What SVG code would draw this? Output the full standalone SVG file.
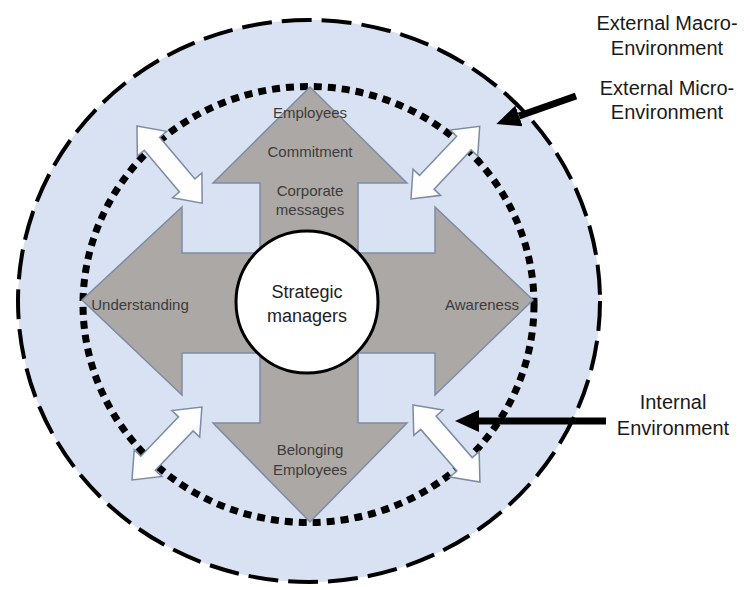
<svg xmlns="http://www.w3.org/2000/svg" width="750" height="590" viewBox="0 0 750 590">
  <style>
    .zone { fill: #d8e2f2; }
    .macro { fill: none; stroke: #000; stroke-width: 4; stroke-dasharray: 30 10; }
    .micro { fill: none; stroke: #000; stroke-width: 7; stroke-dasharray: 8 6; }
    .cross { fill: #aca8a5; stroke: #7d8ca6; stroke-width: 1.5; }
    .link { fill: #fefefe; stroke: #7d8ca6; stroke-width: 1.5; }
    .hub { fill: #fff; stroke: #000; stroke-width: 3; }
    .pointer { stroke: #000; stroke-width: 7; fill: none; }
    .lbl { font-family: "Liberation Sans", Arial, sans-serif; font-size: 15px; fill: #3c3c3c; text-anchor: middle; }
    .hubtxt { font-family: "Liberation Sans", Arial, sans-serif; font-size: 18px; fill: #222; text-anchor: middle; }
    .side { font-family: "Liberation Sans", Arial, sans-serif; font-size: 20px; fill: #1a1a1a; text-anchor: middle; }
  </style>
  <defs>
    <!-- double-headed block arrow, laid along x from 0 to 100 -->
    <polygon id="dbl" points="0,0 23,-19 23,-10 77,-10 77,-19 100,0 77,19 77,10 23,10 23,19"/>
    <marker id="head" markerUnits="userSpaceOnUse" markerWidth="24" markerHeight="22" refX="0" refY="11" orient="auto">
      <path d="M0,0 L24,11 L0,22 Z" fill="#000"/>
    </marker>
  </defs>

  <rect width="750" height="590" fill="#fff"/>

  <!-- environment rings -->
  <g id="macro-environment">
    <ellipse class="zone" cx="309" cy="301" rx="291" ry="281"/>
    <ellipse class="macro" cx="309" cy="301" rx="291" ry="281"/>
  </g>
  <g id="micro-environment">
    <ellipse class="micro" cx="308.5" cy="304.5" rx="225.5" ry="218"/>
  </g>

  <!-- four-way arrow of the internal environment -->
  <g id="internal-arrows">
    <path class="cross" d="M310,87 L407,183 L358,183 L358,253 L435,253 L435,207 L533,300 L435,395 L435,353 L358,353 L358,423 L407,423 L310,522 L213,423 L260,423 L260,353 L182,353 L182,395 L82,300 L182,207 L182,253 L260,253 L260,183 L213,183 Z"/>
    <text class="lbl" x="310" y="118">Employees</text>
    <text class="lbl" x="310" y="157">Commitment</text>
    <text class="lbl" x="310" y="196">Corporate</text>
    <text class="lbl" x="310" y="215">messages</text>
    <text class="lbl" x="140" y="310">Understanding</text>
    <text class="lbl" x="482" y="310">Awareness</text>
    <text class="lbl" x="310" y="455">Belonging</text>
    <text class="lbl" x="310" y="475">Employees</text>
  </g>

  <g id="strategic-managers">
    <circle class="hub" cx="307" cy="302" r="71"/>
    <text class="hubtxt" x="307" y="298">Strategic</text>
    <text class="hubtxt" x="307" y="322">managers</text>
  </g>

  <!-- connectors -->
  <g id="connectors">
    <use href="#dbl" class="link" transform="translate(137,126) rotate(49.8) scale(1.01)"/>
    <use href="#dbl" class="link" transform="translate(411,199) rotate(-46.6) scale(1.0)"/>
    <use href="#dbl" class="link" transform="translate(132,480) rotate(-46.2) scale(1.01)"/>
    <use href="#dbl" class="link" transform="translate(413,405) rotate(49) scale(1.02)"/>
    <line class="pointer" x1="576" y1="96" x2="519" y2="116" marker-end="url(#head)"/>
    <line class="pointer" x1="606" y1="421" x2="479" y2="421" marker-end="url(#head)"/>
  </g>

  <!-- ring labels -->
  <g id="label-macro">
    <text class="side" x="667" y="30">External Macro-</text>
    <text class="side" x="667" y="55">Environment</text>
  </g>
  <g id="label-micro">
    <text class="side" x="667" y="95">External Micro-</text>
    <text class="side" x="667" y="119">Environment</text>
  </g>
  <g id="label-internal">
    <text class="side" x="673" y="409">Internal</text>
    <text class="side" x="673" y="435">Environment</text>
  </g>
</svg>
